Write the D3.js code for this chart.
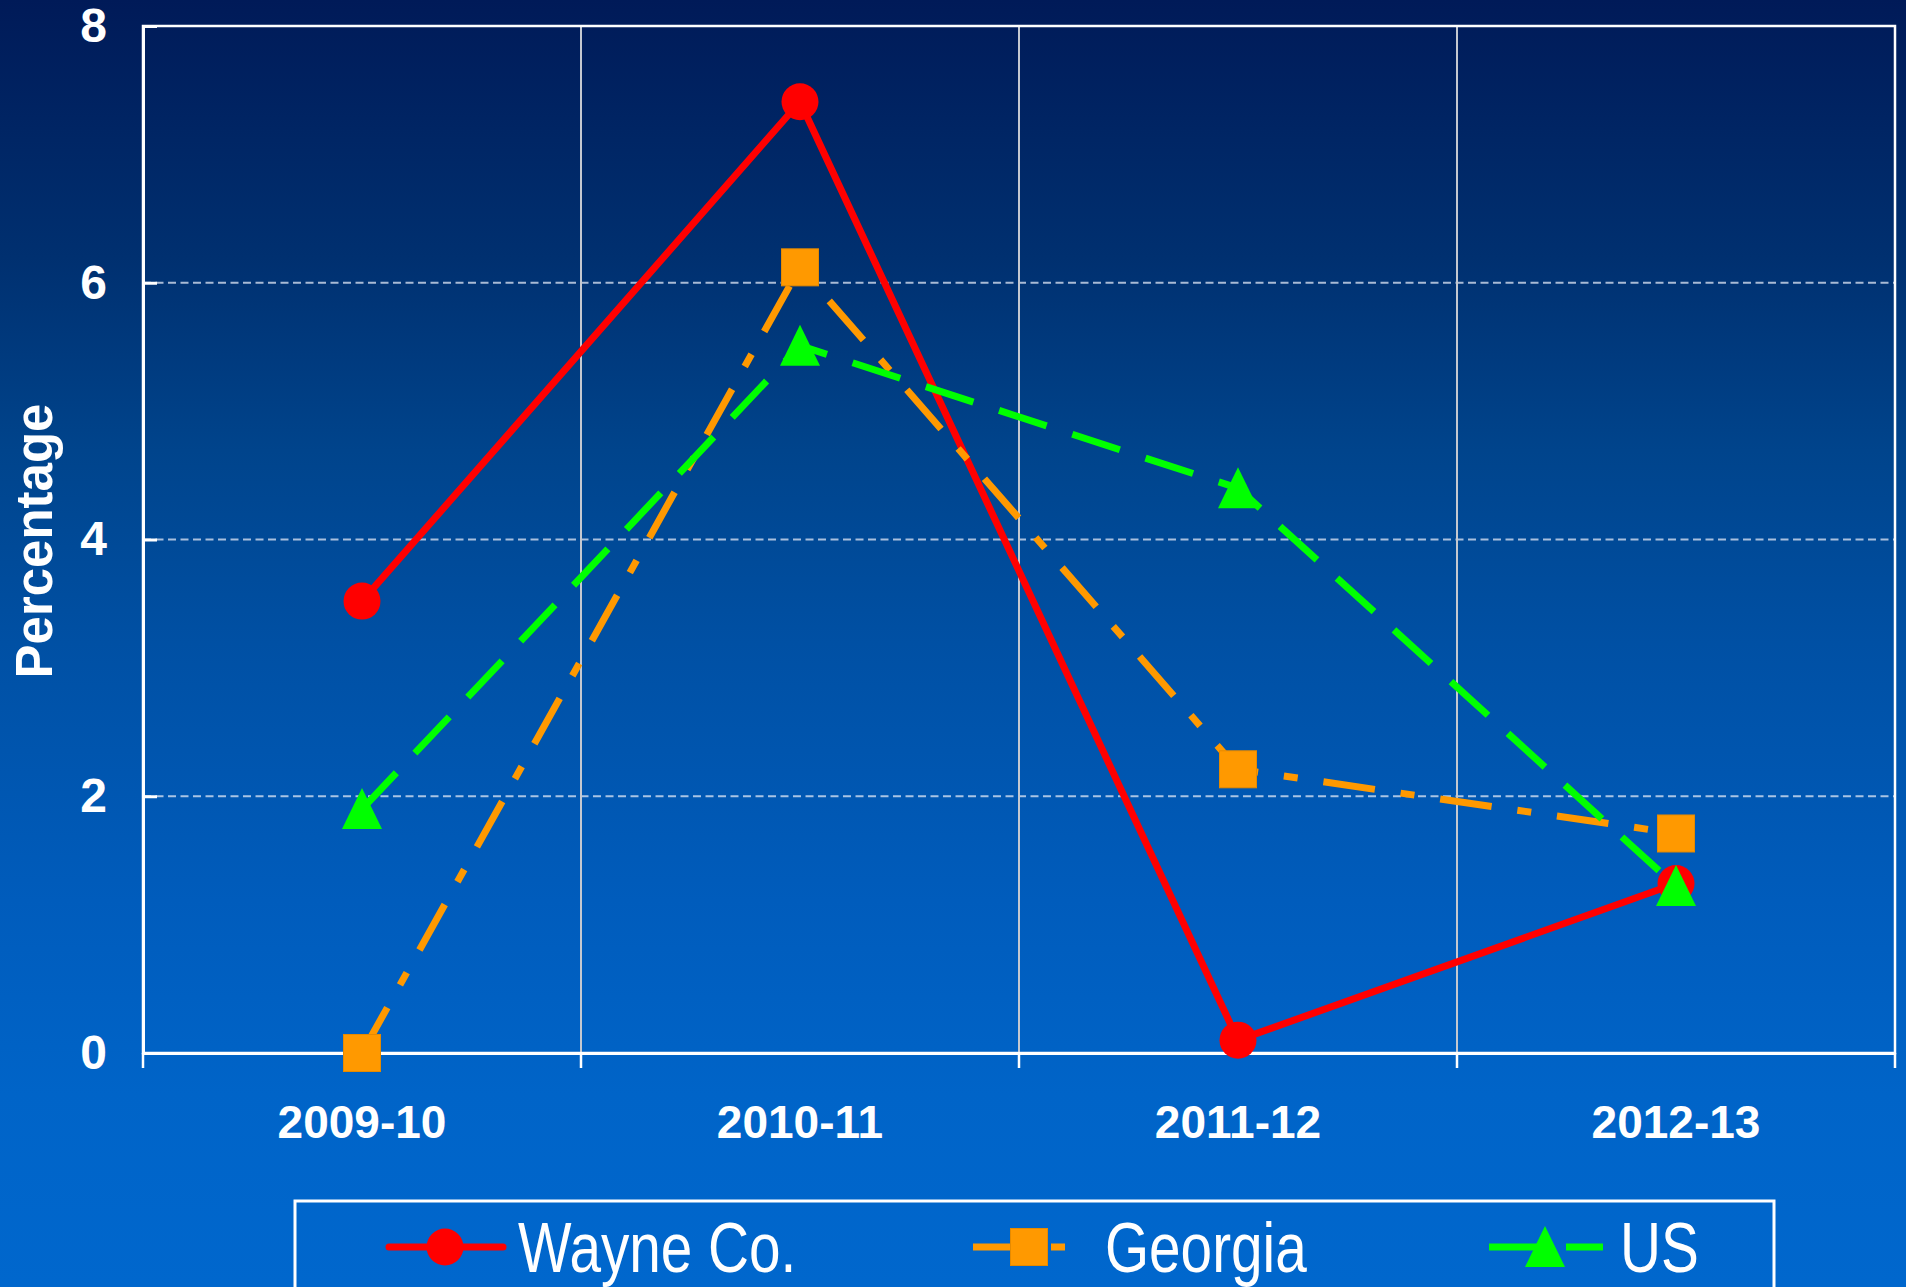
<!DOCTYPE html>
<html>
<head>
<meta charset="utf-8">
<script src="https://cdn.jsdelivr.net/npm/d3@7"></script>
<style>
  html, body { margin: 0; padding: 0; background: #003a80; }
  svg { display: block; }
  text { font-family: "Liberation Sans", Arial, Helvetica, sans-serif; fill: #ffffff; }
</style>
</head>
<body>
<svg id="chart" width="1906" height="1287"></svg>
<script>
// ---- Data ----
const categories = ["2009-10", "2010-11", "2011-12", "2012-13"];
const wayneValues = [3.52, 7.41, 0.10, 1.32];
const georgiaValues = [0.00, 6.12, 2.21, 1.71];
const usValues = [1.90, 5.51, 4.40, 1.30];
const yTicks = [0, 2, 4, 6, 8];
const seriesNames = ["Wayne Co.", "Georgia", "US"];
const yTitle = "Percentage";

// ---- Layout ----
const W = 1906, H = 1287;
const plot = { left: 143, right: 1895, top: 26, bottom: 1053 };

const svg = d3.select("#chart");

// background gradient
const defs = svg.append("defs");
const grad = defs.append("linearGradient").attr("id", "bg").attr("x1", 0).attr("y1", 0).attr("x2", 0).attr("y2", 1);
[[0, "#001a58"], [0.2, "#003070"], [0.35, "#00448c"], [0.5, "#0050a4"], [0.7, "#005cbc"], [0.85, "#0064c8"], [1, "#0067cd"]]
  .forEach(([o, c]) => grad.append("stop").attr("offset", o).attr("stop-color", c));
svg.append("rect").attr("width", W).attr("height", H).attr("fill", "url(#bg)");

const x = d3.scaleBand().domain(categories).range([plot.left, plot.right]);
const y = d3.scaleLinear().domain([0, 8]).range([plot.bottom, plot.top]);
const cx = c => x(c) + x.bandwidth() / 2;

// horizontal dashed gridlines
svg.append("g").selectAll("line").data(yTicks.filter(t => t > 0 && t < 8)).join("line")
  .attr("x1", plot.left).attr("x2", plot.right)
  .attr("y1", d => y(d)).attr("y2", d => y(d))
  .attr("stroke", "rgba(225,232,245,0.75)").attr("stroke-width", 2)
  .attr("stroke-dasharray", "8,4.5");

// vertical solid gridlines at category boundaries
svg.append("g").selectAll("line").data(categories.slice(1)).join("line")
  .attr("x1", d => x(d)).attr("x2", d => x(d))
  .attr("y1", plot.top).attr("y2", plot.bottom)
  .attr("stroke", "#c4c8d0").attr("stroke-width", 2);

// plot frame (top & right)
svg.append("rect")
  .attr("x", plot.left).attr("y", plot.top)
  .attr("width", plot.right - plot.left).attr("height", plot.bottom - plot.top)
  .attr("fill", "none").attr("stroke", "#ffffff").attr("stroke-width", 2.5);

// Y axis
const yAxis = d3.axisLeft(y).tickValues(yTicks).tickSizeInner(-14).tickSizeOuter(0).tickPadding(36);
const gy = svg.append("g").attr("transform", `translate(${plot.left},0)`).call(yAxis);
gy.select(".domain").attr("stroke", "#ffffff").attr("stroke-width", 3);
gy.selectAll(".tick line").attr("stroke", "#ffffff").attr("stroke-width", 3);
gy.selectAll(".tick text").attr("fill", "#ffffff").style("font-size", "48px").style("font-weight", "bold")
  .style("font-family", '"Liberation Sans", Arial, sans-serif');

// X axis labels
const xAxis = d3.axisBottom(x).tickSize(0).tickPadding(52);
const gx = svg.append("g").attr("transform", `translate(0,${plot.bottom})`).call(xAxis);
gx.select(".domain").attr("stroke", "#ffffff").attr("stroke-width", 3);
gx.selectAll(".tick text").attr("fill", "#ffffff").style("font-size", "46px").style("font-weight", "bold")
  .style("font-family", '"Liberation Sans", Arial, sans-serif');

// X boundary ticks
const boundaries = categories.map(c => x(c)).concat([x.range()[1]]);
svg.append("g").selectAll("line").data(boundaries).join("line")
  .attr("x1", d => d).attr("x2", d => d)
  .attr("y1", plot.bottom).attr("y2", plot.bottom + 15)
  .attr("stroke", "#ffffff").attr("stroke-width", 2.5);

// Y title
svg.append("text")
  .attr("transform", `translate(52,${541}) rotate(-90)`)
  .attr("text-anchor", "middle")
  .style("font-size", "51px").style("font-weight", "bold")
  .text(yTitle);

// ---- Series ----
const series = [
  { name: seriesNames[0], values: wayneValues, color: "#ff0000", dash: null, marker: "circle" },
  { name: seriesNames[1], values: georgiaValues, color: "#ff9900", dash: "52,26,14,26", marker: "square" },
  { name: seriesNames[2], values: usValues, color: "#00ff00", dash: "50,27", marker: "triangle" }
];

const line = d3.line().x((d, i) => cx(categories[i])).y(d => y(d));

function drawMarker(g, type, color, px, py) {
  if (type === "circle") {
    g.append("circle").attr("cx", px).attr("cy", py).attr("r", 18.5).attr("fill", color);
  } else if (type === "square") {
    g.append("rect").attr("x", px - 18.5).attr("y", py - 18.5).attr("width", 37).attr("height", 37)
      .attr("fill", color).attr("stroke", "#e68a00").attr("stroke-width", 1);
  } else {
    g.append("path").attr("d", `M${px},${py - 21} L${px + 20},${py + 20} L${px - 20},${py + 20} Z`)
      .attr("fill", color);
  }
}

series.forEach(s => {
  const g = svg.append("g");
  g.append("path").datum(s.values).attr("d", line)
    .attr("fill", "none").attr("stroke", s.color).attr("stroke-width", 7)
    .attr("stroke-dasharray", s.dash).attr("stroke-linejoin", "round");
  s.values.forEach((v, i) => drawMarker(g, s.marker, s.color, cx(categories[i]), y(v)));
});

// ---- Legend ----
const legend = svg.append("g");
legend.append("rect").attr("x", 295).attr("y", 1201).attr("width", 1479).attr("height", 120)
  .attr("fill", "none").attr("stroke", "#ffffff").attr("stroke-width", 3);

const legendItems = [
  { s: series[0], mx: 445, tx: 518 },
  { s: series[1], mx: 1029, tx: 1105 },
  { s: series[2], mx: 1545, tx: 1620 }
];
const ly = 1247;
legendItems.forEach(it => {
  const g = legend.append("g");
  g.append("line").attr("x1", it.mx - 56).attr("x2", it.mx + 58).attr("y1", ly).attr("y2", ly)
    .attr("stroke", it.s.color).attr("stroke-width", 7).attr("stroke-dasharray", it.s.dash)
    .attr("stroke-linecap", it.s.dash ? "butt" : "round");
  drawMarker(g, it.s.marker, it.s.color, it.mx, ly);
  g.append("text").attr("transform", `translate(${it.tx},1272) scale(0.81,1)`)
    .style("font-size", "70px").text(it.s.name);
});
</script>
</body>
</html>
